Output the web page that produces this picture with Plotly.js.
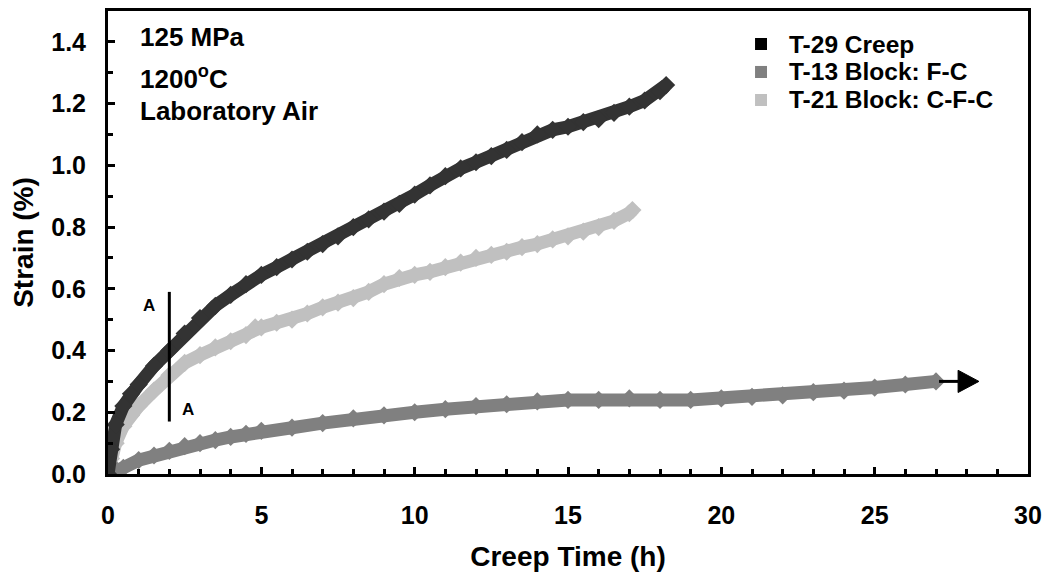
<!DOCTYPE html>
<html>
<head>
<meta charset="utf-8">
<script src="https://cdn.plot.ly/plotly-3.0.1.min.js"></script>
<style>html,body{margin:0;padding:0;background:#fff;}#chart{width:1047px;height:577px;}</style>
</head>
<body>
<div id="chart"></div>
<script>
// ---- data ----
const seriesNames = ["T-29 Creep", "T-13 Block: F-C", "T-21 Block: C-F-C"];

const t29Time = [0,0.1,0.25,0.5,0.75,1,1.5,2,2.5,3,3.5,4,4.5,5,5.5,6,6.5,7,7.5,8,8.5,9,9.5,10,10.5,11,11.5,12,12.5,13,13.5,14,14.5,15,15.5,16,16.5,17,17.5,18,18.2];
const t29Strain = [0,0.08,0.16,0.22,0.26,0.29,0.35,0.40,0.455,0.505,0.545,0.58,0.615,0.645,0.67,0.695,0.72,0.745,0.77,0.80,0.825,0.85,0.875,0.905,0.935,0.965,0.99,1.01,1.03,1.05,1.075,1.10,1.115,1.125,1.14,1.15,1.17,1.19,1.21,1.24,1.26];

const t13Time = [0,0.3,0.5,1,1.5,2,2.5,3,3.5,4,4.5,5,6,7,8,9,10,11,12,13,14,15,16,17,18,19,20,21,22,23,24,25,26,27];
const t13Strain = [0,0.01,0.02,0.045,0.06,0.075,0.09,0.10,0.11,0.12,0.13,0.14,0.15,0.165,0.18,0.19,0.20,0.21,0.22,0.226,0.235,0.24,0.24,0.245,0.24,0.24,0.245,0.25,0.255,0.265,0.27,0.28,0.29,0.30];

const t21Time = [0,0.1,0.25,0.5,0.75,1,1.5,2,2.5,3,3.5,4,4.5,4.8,5,5.5,6,6.5,7,7.5,8,8.5,9,9.5,10,10.5,11,11.5,12,12.5,13,13.5,14,14.5,15,15.5,16,16.5,17,17.1];
const t21Strain = [0,0.05,0.10,0.155,0.19,0.22,0.27,0.32,0.36,0.385,0.41,0.43,0.45,0.475,0.475,0.49,0.50,0.52,0.54,0.555,0.57,0.59,0.615,0.635,0.645,0.655,0.67,0.685,0.70,0.71,0.72,0.735,0.745,0.76,0.77,0.785,0.80,0.82,0.845,0.855];

const seriesColors = ["#333333", "#808080", "#c0c0c0"];
const legendColors = ["#000000", "#808080", "#c0c0c0"];

const xTickVals = [0,5,10,15,20,25,30];
const yTickVals = [0,0.2,0.4,0.6,0.8,1.0,1.2,1.4];
const yTickText = ["0.0","0.2","0.4","0.6","0.8","1.0","1.2","1.4"];

const conditionLines = ["125 MPa", "1200<sup>o</sup>C", "Laboratory Air"];
const conditionY = [1.415, 1.285, 1.176];

// A-A section marker and arrow
const sectionTime = 2;
const sectionStrain = [0.17, 0.59];
const arrowLine = [27.1, 27.72];
const arrowTip = 28.4;
const arrowStrain = 0.30;

// legend placement (paper fractions of the plot area)
const legendRowY = [0.9287, 0.8683, 0.8078];

// ---- chart ----
const FONT = "Liberation Sans, Arial, sans-serif";
function band(x, y, color, name) {
  return {
    x: x, y: y, type: "scatter", mode: "lines+markers", name: name, showlegend: false,
    line: {color: color, width: 13},
    marker: {color: color, symbol: "diamond", size: 14},
    hoverinfo: "skip"
  };
}
const data = [
  band(t21Time, t21Strain, seriesColors[2], seriesNames[2]),
  band(t13Time, t13Strain, seriesColors[1], seriesNames[1]),
  band(t29Time, t29Strain, seriesColors[0], seriesNames[0])
];

const boldFont = (s) => ({family: FONT, size: s, color: "#000", weight: 700});

const shapes = [
  {type: "line", xref: "x", yref: "y", x0: sectionTime, x1: sectionTime,
   y0: sectionStrain[0], y1: sectionStrain[1], line: {color: "#000", width: 3}},
  {type: "line", xref: "x", yref: "y", x0: arrowLine[0], x1: arrowLine[1],
   y0: arrowStrain, y1: arrowStrain, line: {color: "#000", width: 3}},
  {type: "path", xref: "x", yref: "y",
   path: "M " + arrowLine[1] + "," + (arrowStrain + 0.036) + " L " + arrowTip + "," + arrowStrain +
         " L " + arrowLine[1] + "," + (arrowStrain - 0.036) + " Z",
   fillcolor: "#000", line: {color: "#000", width: 1}}
];
const annotations = [];
conditionLines.forEach((t, i) => annotations.push({
  xref: "x", yref: "y", x: 0.98, y: conditionY[i], text: t, showarrow: false, xanchor: "left",
  font: boldFont(26)
}));
annotations.push({xref: "x", yref: "y", x: 1.35, y: 0.545, text: "A", showarrow: false, font: boldFont(17)});
annotations.push({xref: "x", yref: "y", x: 2.6, y: 0.21, text: "A", showarrow: false, font: boldFont(17)});

seriesNames.forEach((n, i) => {
  const yc = legendRowY[i];
  shapes.push({type: "rect", xref: "paper", yref: "paper",
    x0: 0.7033, x1: 0.7163, y0: yc - 0.013, y1: yc + 0.013,
    fillcolor: legendColors[i], line: {width: 0}});
  annotations.push({xref: "paper", yref: "paper", x: 0.738, y: yc, text: n, showarrow: false,
    xanchor: "left", yanchor: "middle", font: boldFont(24.5)});
});

const tickFont = boldFont(25);
const layout = {
  width: 1047, height: 577,
  margin: {l: 108, r: 19, t: 11, b: 103},
  paper_bgcolor: "#fff", plot_bgcolor: "#fff",
  showlegend: false,
  xaxis: {
    range: [0, 30], tickvals: xTickVals, ticks: "inside", ticklen: 7, tickwidth: 3,
    tickcolor: "#000", showline: true, linewidth: 3, linecolor: "#000", mirror: true,
    showgrid: false, zeroline: false, tickfont: tickFont, ticklabelstandoff: 17,
    minor: {dtick: 1, ticks: "inside", ticklen: 5, tickwidth: 3, tickcolor: "#000", showgrid: false},
    title: {text: "Creep Time (h)", font: boldFont(28), standoff: 19}
  },
  yaxis: {
    range: [0, 1.5], tickvals: yTickVals, ticktext: yTickText, ticks: "inside", ticklen: 7, tickwidth: 3,
    tickcolor: "#000", showline: true, linewidth: 3, linecolor: "#000", mirror: true,
    showgrid: false, zeroline: false, tickfont: tickFont, ticklabelstandoff: 14,
    minor: {dtick: 0.1, ticks: "inside", ticklen: 5, tickwidth: 3, tickcolor: "#000", showgrid: false},
    title: {text: "Strain (%)", font: boldFont(28), standoff: 10}
  },
  shapes: shapes,
  annotations: annotations
};
Plotly.newPlot("chart", data, layout, {displayModeBar: false, staticPlot: true});
</script>
</body>
</html>
